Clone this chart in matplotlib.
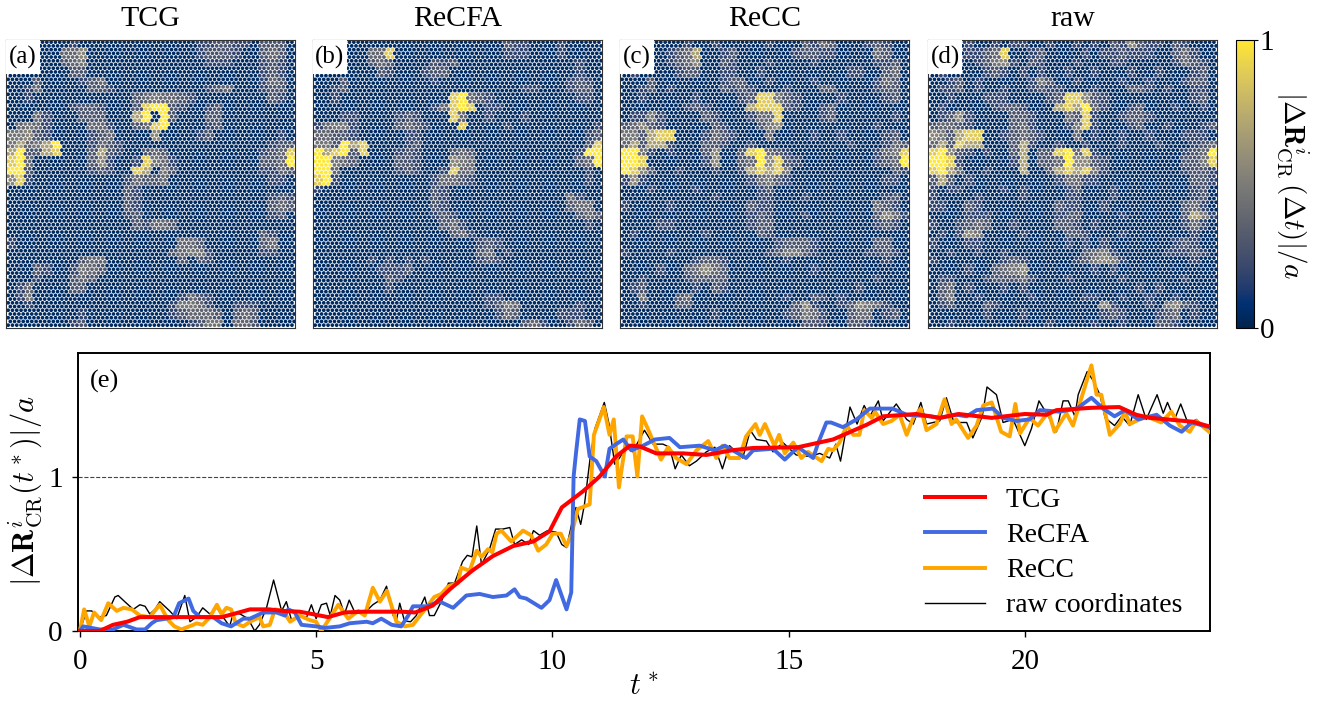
import numpy as np
import matplotlib
matplotlib.use("Agg")
import matplotlib.pyplot as plt
from matplotlib.cm import ScalarMappable
from matplotlib.colors import Normalize
from matplotlib.patches import Rectangle

plt.rcParams['font.family'] = ['Liberation Serif', 'DejaVu Serif']
plt.rcParams['mathtext.fontset'] = 'cm'

# displacement maps, one digit per region (see digit_values)
digit_values = [0.0, 0.05, 0.18, 0.28, 0.38, 0.46, 0.55, 0.68, 0.88, 1.0]

map_a = """
11111112 11111111 11111223 32213331
11111144 61111111 11111233 32113431
11111134 51111111 11111122 21112321
11111113 31111111 11111111 11112321
11131111 23411111 11111111 11112431
11241111 13321111 11111123 41112331
11211111 11111134 54432111 11111321
11111112 33211138 99321123 11111111
11142111 33311179 19311133 11111111
14542111 14421134 89111123 11111111
55632111 12341111 61111231 11111121
57457911 12432111 11111111 11111233
79337811 13732113 43111111 11112348
89411111 13621128 54211111 11113349
99311111 12321187 15311111 11112243
68211111 11111243 34111111 11111221
11111111 11111321 11111111 11111111
11111111 11111321 11111111 11111232
11111111 11111321 11111111 11111343
11111111 11111231 11111111 11111231
11111111 11111132 44311111 11111111
11111111 11111111 11111111 11113211
21111111 11111111 11144311 11113411
11111111 11111111 11345521 11112211
11111111 34411111 11131321 11111111
11132112 54311111 11111111 11111111
11121113 43111111 11111111 11111111
12411113 31111111 11111111 11111111
12511111 11111111 11124321 11111111
11211111 11111111 11255421 12221111
11111111 21111111 11234443 13431111
11111112 31111111 11112355 14431111
"""
map_b = """
11111111 11111111 11111322 11121111
11111144 81111111 11111222 11121111
11111134 31111323 11111111 11111211
11111113 21112331 11111111 11111211
11131111 11111211 11111111 11112321
11231111 11111111 11111112 21112331
11211111 11111118 94321111 11111221
11111111 11111248 98122111 11111111
11122111 12321118 41121112 11111111
24552111 13432111 81111211 11111112
44332111 11221111 11111111 11111123
55397811 11231111 11111111 11111138
97893811 12321113 43111111 11111299
99543111 13321116 54111111 11111349
99411111 12321128 44111111 11111121
89211111 11111244 32111111 11111121
21111111 11111321 11111111 11111111
11111111 11111321 11111111 11114211
11111111 11111321 11111111 11113441
11111111 11111232 11111111 11111343
11111111 11111134 21111111 11111121
11111111 11111113 42111111 11111111
11111111 11111111 11232111 11111111
11111111 11111111 11341211 11111111
11111121 21212111 11232111 11111111
11111112 22311111 11111111 11111111
11111111 32111111 11111111 11111111
11111111 21111111 11111111 11111111
11111111 11111111 11122111 11111111
11111111 11111111 11123541 11111211
11111111 11111111 11112431 11122211
11111111 11111111 11111113 42112431
"""
map_c = """
11111112 11211111 21113243 11123211
11211234 71123111 11123322 11114311
11111234 61132111 21111211 11112231
12111123 31122112 11111111 12211341
11131111 11123311 21111211 11112431
11231211 11132321 11211133 11112331
11211111 21111238 85321111 21111231
11111112 32111178 88321123 11111111
12252111 13211124 48111123 11111121
34632111 11321113 56111111 11112111
55378811 12432111 41111211 21111231
47377211 13321121 11111111 12111243
99521211 13611389 43211111 11112458
99811111 12611349 68321111 11112349
98631121 11211278 78511111 11111132
26211111 11111124 53211111 11111221
11121111 21111112 31111111 11111111
11111111 11211112 21112111 11111231
21111211 11111132 21111111 11114321
11111111 11111123 21112111 11113642
11112211 11111123 31111111 11112321
12111111 12111113 21111111 11111111
11111111 11111111 12333211 11113311
21111211 11111111 23553211 11122321
11111111 23321111 11211111 11111211
11112113 46431111 11111211 11111111
11211112 33331111 11111111 11112111
12311111 21321111 11111111 11211111
11511134 11111111 11211321 21111111
11211133 11111111 11136211 23654211
11111111 11211111 11235421 13441231
11111111 11111111 11113321 13321111
"""
map_d = """
11112112 12211211 21213263 22132111
11212234 81123111 12122322 21134211
11121235 62132111 21112211 11124321
12111123 21212112 11211121 12111231
11231211 11125311 21111211 21112331
12231211 21123221 11211133 21211221
11211122 21111238 86321111 11111231
12111112 33211178 79421123 11121121
12362111 13321114 38211233 21111111
34432111 13421112 58211123 11211123
65378811 23432111 41211211 21112221
47387711 13721121 12111211 12111234
89632121 13713389 48211111 11112349
99821111 12713349 66321111 11113358
89741121 11711378 78521111 11112332
37312111 11111124 42211111 11111332
21221111 21211112 31112111 11111231
21111211 11211112 21112111 11111231
22113211 11111132 21121111 11113421
11112221 11111123 31111211 11113752
21123431 12111133 21211111 11112421
12126511 11211113 32111211 11111211
21112211 11111112 12121111 11123211
11211211 21111111 13452111 11222321
21111111 23211111 23565211 11111211
11112113 45611111 11212111 11111111
12211123 33421112 11111211 11112111
13412111 21211111 11111112 12111111
13511211 11121111 12211211 21121111
12311132 11111111 11162111 21563211
11111121 11211111 11123211 12341211
11211111 11111211 11211211 13321111
"""

panel_titles = ["TCG", "ReCFA", "ReCC", "raw"]
panel_tags = ["(a)", "(b)", "(c)", "(d)"]
panel_maps = [map_a, map_b, map_c, map_d]

t_tcg = [0, 0.42, 0.7, 1.0, 1.27, 1.7, 2.5, 3.0, 3.25, 3.6, 4.0, 4.3, 4.65, 5.0, 5.25, 5.6, 6.0, 6.8,
         7.1, 7.47, 7.83, 8.3, 8.74, 9.17, 9.6, 9.94, 10.2, 10.65, 11.0, 11.35, 11.64, 11.85, 12.2,
         12.77, 13.26, 13.8, 14.25, 15.2, 15.94, 16.65, 17.0, 17.7, 18.2, 18.6, 19.3, 20.0, 20.46,
         20.67, 21.4, 22.0, 22.36, 22.65, 23.56, 23.9]
y_tcg = [0, 0, 0.04, 0.06, 0.09, 0.09, 0.09, 0.09, 0.11, 0.14, 0.14, 0.13, 0.125, 0.105, 0.09, 0.12, 0.125, 0.125,
         0.12, 0.165, 0.27, 0.39, 0.485, 0.55, 0.58, 0.645, 0.80, 0.905, 1.0, 1.13, 1.2, 1.195, 1.15,
         1.15, 1.14, 1.17, 1.185, 1.19, 1.24, 1.335, 1.39, 1.405, 1.38, 1.405, 1.38, 1.405, 1.40,
         1.43, 1.445, 1.45, 1.40, 1.38, 1.355, 1.325]

t_recfa = [0, 0.07, 0.42, 0.7, 0.92, 1.2, 1.38, 1.52, 1.62, 1.83, 1.98, 2.1, 2.3, 2.4, 2.54, 2.82, 3.0, 3.2,
           3.46, 3.6, 3.88, 4.16, 4.34, 4.41, 4.55, 4.69, 5.0, 5.19, 5.5, 5.71, 6.07, 6.2, 6.38, 6.6, 6.8,
           6.95, 7.05, 7.33, 7.62, 7.9, 8.18, 8.46, 8.74, 9.03, 9.2, 9.31, 9.45, 9.77, 9.94, 10.08, 10.3,
           10.4, 10.45, 10.5, 10.58, 10.69, 10.79, 10.93, 11.11, 11.21, 11.35, 11.5, 11.67, 11.92, 12.17,
           12.48, 12.7, 13.12, 13.44, 13.65, 14.1, 14.25, 14.67, 14.92, 15.2, 15.52, 15.63, 15.8, 15.9,
           16.15, 16.44, 16.72, 17.2, 17.5, 18.0, 18.2, 18.55, 18.77, 18.98, 19.33, 19.54, 19.82, 20.1,
           20.32, 20.74, 21.1, 21.41, 21.66, 21.9, 22.12, 22.4, 22.79, 23.07, 23.32, 23.53, 23.9]
y_recfa = [0, 0.03, 0.01, 0.01, 0.04, 0.01, 0.01, 0.05, 0.07, 0.08, 0.09, 0.18, 0.21, 0.13, 0.09, 0.09, 0.05, 0.03,
           0.08, 0.08, 0.12, 0.12, 0.10, 0.14, 0.12, 0.04, 0.03, 0.02, 0.03, 0.05, 0.06, 0.05, 0.08, 0.04, 0.03,
           0.10, 0.16, 0.16, 0.19, 0.15, 0.23, 0.24, 0.22, 0.23, 0.27, 0.22, 0.21, 0.15, 0.20, 0.33, 0.14,
           0.25, 1.0, 1.15, 1.37, 1.36, 1.13, 1.10, 1.0, 1.18, 1.21, 1.24, 1.17, 1.20, 1.24,
           1.25, 1.19, 1.20, 1.17, 1.20, 1.12, 1.17, 1.18, 1.11, 1.19, 1.12, 1.22, 1.35, 1.35,
           1.32, 1.37, 1.44, 1.44, 1.40, 1.39, 1.38, 1.40, 1.39, 1.43, 1.44, 1.38, 1.36, 1.37,
           1.43, 1.42, 1.44, 1.51, 1.44, 1.39, 1.43, 1.37, 1.40, 1.33, 1.29, 1.35, 1.32]

t_recc = [0, 0.09, 0.2, 0.3, 0.45, 0.6, 0.78, 0.92, 1.1, 1.27, 1.48, 1.69, 1.87, 2.0, 2.15, 2.4, 2.47, 2.6,
          2.75, 2.9, 3.0, 3.1, 3.2, 3.3, 3.46, 3.6, 3.8, 3.88, 4.02, 4.13, 4.3, 4.45, 4.65, 4.87, 5.0, 5.11,
          5.26, 5.47, 5.68, 5.89, 6.03, 6.2, 6.35, 6.5, 6.7, 6.88, 7.05, 7.2, 7.33, 7.5, 7.65, 7.8, 8.0,
          8.07, 8.25, 8.4, 8.5, 8.64, 8.73, 8.82, 8.92, 9.13, 9.38, 9.55, 9.7, 9.87, 10.01, 10.18, 10.3,
          10.4, 10.54, 10.79, 10.88, 11.09, 11.21, 11.3, 11.41, 11.57, 11.7, 11.8, 11.9, 12.02, 12.3, 12.45,
          12.62, 12.84, 13.05, 13.3, 13.47, 13.6, 13.75, 13.96, 14.1, 14.3, 14.39, 14.5, 14.7, 14.8, 14.92,
          15.1, 15.27, 15.41, 15.7, 15.84, 15.94, 16.08, 16.23, 16.37, 16.5, 16.6, 16.76, 16.83, 17.0, 17.18,
          17.35, 17.5, 17.64, 17.8, 17.92, 18.13, 18.3, 18.45, 18.55, 18.8, 18.98, 19.12, 19.3, 19.5, 19.68,
          19.8, 19.9, 20.1, 20.28, 20.5, 20.63, 20.88, 21.02, 21.23, 21.41, 21.52, 21.62, 21.8, 22.01, 22.12,
          22.22, 22.57, 22.89, 23.1, 23.28, 23.49, 23.63, 23.9]
y_recc = [0, 0.14, 0.03, 0.12, 0.07, 0.18, 0.13, 0.15, 0.14, 0.10, 0.09, 0.17, 0.07, 0.03, 0.01, 0.04, 0.05, 0.04,
          0.09, 0.17, 0.11, 0.15, 0.14, 0.05, 0.03, 0.06, 0.09, 0.03, 0.04, 0.14, 0.13, 0.06, 0.10, 0.07, 0.06, 0.0,
          0.07, 0.17, 0.08, 0.13, 0.10, 0.28, 0.19, 0.26, 0.06, 0.03, 0.04, 0.10, 0.15, 0.22, 0.24, 0.29, 0.31,
          0.41, 0.39, 0.52, 0.48, 0.53, 0.51, 0.63, 0.65, 0.58, 0.65, 0.62, 0.52, 0.56, 0.63, 0.63, 0.55,
          0.62, 0.79, 0.82, 1.27, 1.45, 1.27, 1.37, 0.93, 1.26, 1.26, 1.0, 1.39, 1.31, 1.11, 1.19,
          1.12, 1.08, 1.17, 1.23, 1.12, 1.20, 1.12, 1.12, 1.26, 1.34, 1.27, 1.34, 1.20, 1.27, 1.15,
          1.22, 1.12, 1.16, 1.10, 1.18, 1.17, 1.22, 1.33, 1.27, 1.27, 1.43, 1.38, 1.42, 1.34, 1.36,
          1.40, 1.27, 1.38, 1.44, 1.30, 1.34, 1.50, 1.34, 1.37, 1.25, 1.33, 1.46, 1.48, 1.29, 1.26,
          1.47, 1.28, 1.38, 1.33, 1.42, 1.29, 1.41, 1.33, 1.54, 1.72, 1.53, 1.53, 1.27, 1.34, 1.42,
          1.34, 1.39, 1.35, 1.42, 1.33, 1.29, 1.36, 1.29]

t_raw = [0, 0.14, 0.25, 0.4, 0.56, 0.74, 0.81, 0.95, 1.13, 1.27, 1.38, 1.48, 1.59, 1.69, 1.9, 2.05, 2.22, 2.33,
         2.47, 2.6, 2.75, 2.9, 3.03, 3.17, 3.25, 3.39, 3.56, 3.7, 3.8, 3.95, 4.1, 4.27, 4.37, 4.48, 4.62, 4.8,
         4.9, 5.0, 5.11, 5.22, 5.3, 5.4, 5.5, 5.6, 5.7, 5.82, 6.0, 6.2, 6.35, 6.49, 6.63, 6.7, 6.77, 6.87,
         7.0, 7.12, 7.3, 7.4, 7.5, 7.65, 7.8, 7.93, 8.1, 8.2, 8.3, 8.4, 8.5, 8.67, 8.8, 8.95, 9.1, 9.2, 9.35,
         9.5, 9.6, 9.73, 9.9, 10.08, 10.2, 10.3, 10.4, 10.5, 10.6, 10.68, 10.8, 10.9, 11.1, 11.2, 11.32, 11.42,
         11.57, 11.7, 11.95, 12.13, 12.34, 12.48, 12.6, 12.73, 12.9, 13.05, 13.26, 13.44, 13.6, 13.75, 14.03,
         14.19, 14.32, 14.53, 14.67, 14.88, 15.16, 15.45, 15.66, 15.87, 16.0, 16.1, 16.3, 16.45, 16.6, 16.72,
         16.9, 17.0, 17.28, 17.5, 17.64, 17.8, 17.92, 18.2, 18.34, 18.5, 18.77, 18.9, 19.1, 19.2, 19.4, 19.54,
         19.75, 20.0, 20.14, 20.3, 20.5, 20.67, 20.81, 20.92, 21.06, 21.13, 21.32, 21.45, 21.59, 21.7, 21.9,
         22.05, 22.22, 22.4, 22.57, 22.8, 22.93, 23.02, 23.17, 23.3, 23.46, 23.63, 23.9]
y_raw = [0, 0.13, 0.13, 0.09, 0.10, 0.22, 0.23, 0.19, 0.14, 0.17, 0.16, 0.11, 0.14, 0.19, 0.13, 0.08, 0.23, 0.06,
         0.09, 0.15, 0.11, 0.15, 0.09, 0.03, 0.12, 0.11, 0.08, 0.0, 0.04, 0.15, 0.33, 0.13, 0.19, 0.07, 0.10, 0.09,
         0.17, 0.08, 0.17, 0.18, 0.10, 0.23, 0.20, 0.11, 0.20, 0.12, 0.11, 0.17, 0.20, 0.29, 0.10, 0.07, 0.18, 0.065,
         0.06, 0.10, 0.22, 0.10, 0.10, 0.19, 0.31, 0.31, 0.45, 0.49, 0.48, 0.68, 0.43, 0.53, 0.66, 0.66, 0.67, 0.56, 0.59,
         0.56, 0.65, 0.62, 0.65, 0.64, 0.56, 0.54, 0.68, 0.80, 0.69, 0.82, 1.12, 1.31, 1.48, 1.34, 1.08, 1.12,
         1.19, 1.16, 1.30, 1.21, 1.21, 1.19, 1.05, 1.14, 1.07, 1.10, 1.16, 1.19, 1.05, 1.20, 1.12,
         1.30, 1.24, 1.23, 1.16, 1.22, 1.14, 1.13, 1.15, 1.12, 1.21, 1.10, 1.45, 1.34, 1.46, 1.39,
         1.49, 1.36, 1.47, 1.37, 1.34, 1.48, 1.34, 1.36, 1.51, 1.35, 1.35, 1.25, 1.39, 1.58, 1.53, 1.35,
         1.37, 1.20, 1.31, 1.49, 1.39, 1.29, 1.49, 1.49, 1.39, 1.53, 1.68, 1.62, 1.53, 1.38, 1.33,
         1.39, 1.33, 1.53, 1.37, 1.53, 1.41, 1.48, 1.37, 1.47, 1.34, 1.37, 1.29]

W, H = 1325, 704
panel_lefts = [6, 313, 620, 928]
panel_w, panel_h = 289, 288


def px_axes(left, top, width, height):
    return fig.add_axes([left / W, 1 - (top + height) / H, width / W, height / H])


def draw_panel(ax, grid_text, title, tag):
    grid = np.array([[digit_values[int(c)] for c in row.replace(" ", "")]
                     for row in grid_text.strip().splitlines()])
    # particles sit on a plain triangular lattice, colour comes from the map
    spacing = 4.3
    rows = np.arange(spacing / 2, panel_h, spacing * 0.866)
    xs, ys = [], []
    for i, y in enumerate(rows):
        cols = np.arange(spacing / 2 + (i % 2) * spacing / 2, panel_w, spacing)
        xs.extend(cols)
        ys.extend([y] * len(cols))
    xs, ys = np.array(xs), np.array(ys)
    ci = np.minimum((xs / panel_w * grid.shape[1]).astype(int), grid.shape[1] - 1)
    ri = np.minimum((ys / panel_h * grid.shape[0]).astype(int), grid.shape[0] - 1)
    ax.scatter(xs, ys, c=grid[ri, ci], cmap='cividis', vmin=0, vmax=1, s=7.2, linewidths=0)
    ax.set_xlim(0, panel_w)
    ax.set_ylim(panel_h, 0)
    ax.set_xticks([])
    ax.set_yticks([])
    for s in ax.spines.values():
        s.set_linewidth(0.8)
        s.set_color('#333333')
    ax.add_patch(Rectangle((0, 0), 34, 34, facecolor='white', edgecolor='none', zorder=3))
    ax.text(17, 17, tag, ha='center', va='center', fontsize=18, zorder=4)
    ax.set_title(title, fontsize=21.5, pad=10)


fig = plt.figure(figsize=(W / 100, H / 100), dpi=100)

for left, grid_text, title, tag in zip(panel_lefts, panel_maps, panel_titles, panel_tags):
    draw_panel(px_axes(left, 40, panel_w, panel_h), grid_text, title, tag)

cax = px_axes(1236, 40, 18, 288)
cb = fig.colorbar(ScalarMappable(Normalize(0, 1), 'cividis'), cax=cax)
cb.set_ticks([0, 1])
cb.ax.tick_params(labelsize=21, length=3, width=0.8, pad=1)
cb.outline.set_linewidth(0.8)
fig.text(1293 / W, 1 - 185 / H, r'$|\Delta\mathbf{R}^{i}_{\mathrm{CR}}\,(\Delta t)|/a$', rotation=270,
         ha='center', va='center', fontsize=21)

ax1 = px_axes(78, 353, 1132, 278)
ax1.plot(t_raw, y_raw, color='black', linewidth=1.0, label='raw coordinates', zorder=2)
ax1.plot(t_recc, y_recc, color='orange', linewidth=2.8, label='ReCC', zorder=3)
ax1.plot(t_recfa, y_recfa, color='royalblue', linewidth=2.8, label='ReCFA', zorder=4)
ax1.plot(t_tcg, y_tcg, color='red', linewidth=2.9, label='TCG', zorder=5)
ax1.axhline(1, color='#444444', linestyle='--', linewidth=0.8, zorder=1)

ax1.set_xlim(-0.04, 23.92)
ax1.set_ylim(0, 1.8)
ax1.set_xticks([0, 5, 10, 15, 20])
ax1.set_yticks([0, 1])
ax1.tick_params(labelsize=21, length=4, width=1.0, pad=7)
ax1.tick_params(axis='x', pad=9)
for s in ax1.spines.values():
    s.set_linewidth(1.4)
ax1.text(90 / W, 1 - 381 / H, "(e)", transform=fig.transFigure, fontsize=19, va='center')
fig.text(644 / W, 1 - 687 / H, r'$t^*$', ha='center', va='center', fontsize=22)
fig.text(26 / W, 1 - 491 / H, r'$|\Delta\mathbf{R}^{i}_{\mathrm{CR}}(t^*)|/a$', rotation=90,
         ha='center', va='center', fontsize=22)

handles, labels = ax1.get_legend_handles_labels()
order = [3, 2, 1, 0]
ax1.legend([handles[i] for i in order], [labels[i] for i in order], loc='lower left',
           bbox_to_anchor=(925 / W, 1 - 618.5 / H), bbox_transform=fig.transFigure, frameon=False,
           fontsize=20, handlelength=2.16, handletextpad=0.75, labelspacing=0.35, borderaxespad=0, borderpad=0)

plt.savefig("out.png", dpi=100)
